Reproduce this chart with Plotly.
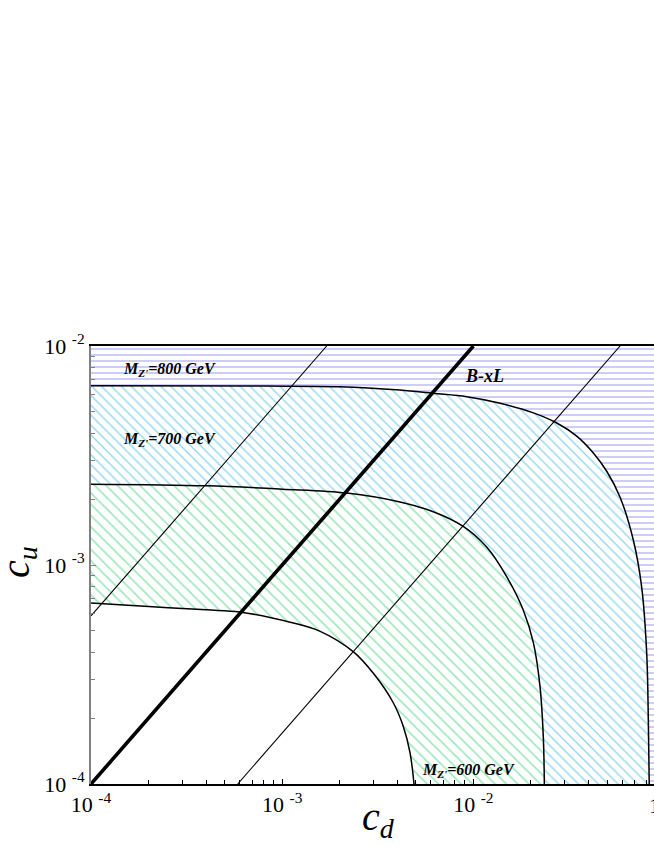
import plotly.graph_objects as go

# ---- data (c_d, c_u) ----
cd_600 = [1e-4, 2e-4, 4e-4, 6.0e-4, 1.10e-3, 1.58e-3, 2.36e-3, 2.99e-3, 3.81e-3, 4.30e-3, 4.66e-3, 4.89e-3]
cu_600 = [6.70e-4, 6.46e-4, 6.24e-4, 6.10e-4, 5.48e-4, 4.98e-4, 4.01e-4, 3.21e-4, 2.35e-4, 1.83e-4, 1.39e-4, 1.0e-4]

cd_700 = [1e-4, 4.03e-4, 1.0e-3, 2.17e-3, 4.13e-3, 6.17e-3, 8.85e-3, 1.17e-2, 1.49e-2, 1.82e-2, 2.06e-2, 2.23e-2, 2.32e-2, 2.35e-2]
cu_700 = [2.34e-3, 2.30e-3, 2.22e-3, 2.13e-3, 1.94e-3, 1.75e-3, 1.50e-3, 1.21e-3, 8.87e-4, 6.25e-4, 4.41e-4, 2.79e-4, 1.65e-4, 1.0e-4]

cd_800 = [1e-4, 8e-4, 2.0e-3, 4.13e-3, 6.17e-3, 9.22e-3, 1.38e-2, 2.06e-2, 2.73e-2, 3.47e-2, 4.24e-2, 4.98e-2, 5.85e-2, 6.86e-2, 7.59e-2, 8.06e-2, 8.22e-2, 8.31e-2]
cu_800 = [6.58e-3, 6.56e-3, 6.52e-3, 6.29e-3, 6.08e-3, 5.87e-3, 5.48e-3, 4.95e-3, 4.45e-3, 3.88e-3, 3.25e-3, 2.68e-3, 2.04e-3, 1.30e-3, 7.90e-4, 3.96e-4, 1.97e-4, 1.0e-4]

# frame of the excluded region (top-left corner, top-right corner, bottom-right corner)
frame_cd = [1e-4, 1e-1, 1e-1]
frame_cu = [1e-2, 1e-2, 1e-4]

# straight lines
bxl_cd = [1e-4, 1e-2]
bxl_cu = [1e-4, 1e-2]
lineA_cd = [1e-4, 1.71e-3]
lineA_cu = [5.86e-4, 1e-2]
lineB_cd = [5.85e-4, 5.85e-2]
lineB_cu = [1e-4, 1e-2]

tick_vals = [1e-4, 1e-3, 1e-2, 1e-1]
tick_text = ["10 <sup>-4</sup>", "10 <sup>-3</sup>", "10 <sup>-2</sup>", "10 <sup>-1</sup>"]

GREEN = "#3ccf7a"
CYAN = "#27aee0"
BLUE = "#5555e6"
FONT = "Liberation Serif"

fig = go.Figure()

SM = 1.0
# fills (hatched regions)
fig.add_trace(go.Scatter(x=cd_600, y=cu_600, mode="lines",
                         line=dict(width=0, shape="spline", smoothing=SM),
                         hoverinfo="skip", showlegend=False))
fig.add_trace(go.Scatter(x=cd_700, y=cu_700, mode="lines",
                         line=dict(width=0, shape="spline", smoothing=SM),
                         fill="tonexty", fillcolor="rgba(0,0,0,0)",
                         fillpattern=dict(shape="\\", fgcolor=GREEN, bgcolor="white", size=8, solidity=0.2),
                         hoverinfo="skip", showlegend=False))
fig.add_trace(go.Scatter(x=cd_800, y=cu_800, mode="lines",
                         line=dict(width=0, shape="spline", smoothing=SM),
                         fill="tonexty", fillcolor="rgba(0,0,0,0)",
                         fillpattern=dict(shape="\\", fgcolor=CYAN, bgcolor="white", size=7, solidity=0.2),
                         hoverinfo="skip", showlegend=False))
fig.add_trace(go.Scatter(x=frame_cd, y=frame_cu, mode="lines",
                         line=dict(width=0),
                         fill="tonexty", fillcolor="rgba(0,0,0,0)",
                         fillpattern=dict(shape="-", fgcolor=BLUE, bgcolor="white", size=6, solidity=0.2),
                         hoverinfo="skip", showlegend=False))

# boundary curves
for xs, ys in [(cd_600, cu_600), (cd_700, cu_700), (cd_800, cu_800)]:
    fig.add_trace(go.Scatter(x=xs, y=ys, mode="lines",
                             line=dict(color="black", width=1.5, shape="spline", smoothing=SM),
                             hoverinfo="skip", showlegend=False))

# straight lines
fig.add_trace(go.Scatter(x=lineA_cd, y=lineA_cu, mode="lines", line=dict(color="black", width=1.1),
                         hoverinfo="skip", showlegend=False))
fig.add_trace(go.Scatter(x=lineB_cd, y=lineB_cu, mode="lines", line=dict(color="black", width=1.1),
                         hoverinfo="skip", showlegend=False))
fig.add_trace(go.Scatter(x=bxl_cd, y=bxl_cu, mode="lines", line=dict(color="black", width=3.6),
                         hoverinfo="skip", showlegend=False))

L, T, PW, PH = 91, 346, 563, 438
x_right = -4 + PW / 191.2


def px(xp):  # page x -> paper x
    return (xp - L) / PW


def py(yp):  # page y -> paper y
    return (T + PH - yp) / PH


fig.update_layout(
    width=654, height=846,
    margin=dict(l=L, r=654 - L - PW, t=T, b=846 - T - PH),
    paper_bgcolor="white", plot_bgcolor="white",
    font=dict(family=FONT, color="black"),
    xaxis=dict(type="log", range=[-4, x_right], tickvals=tick_vals, ticktext=tick_text,
               tickfont=dict(family=FONT, size=22, color="black"),
               ticks="inside", ticklen=5, tickcolor="black",
               showline=True, linecolor="black", linewidth=1.5, mirror=True,
               showgrid=False, zeroline=False,
               minor=dict(ticks="inside", ticklen=4, tickcolor="black", dtick="D1", showgrid=False)),
    yaxis=dict(type="log", range=[-4, -2], tickvals=tick_vals, ticktext=tick_text,
               tickfont=dict(family=FONT, size=22, color="black"),
               ticks="inside", ticklen=5, tickcolor="#808080",
               showline=True, linecolor="#808080", linewidth=2, mirror=False,
               showgrid=False, zeroline=False,
               minor=dict(ticks="inside", ticklen=4, tickcolor="#808080", dtick="D1", showgrid=False)),
    annotations=[
        dict(text="<b><i>M<sub>Z'</sub>=800 GeV</i></b>", x=-3.592, y=-2.109, xref="x", yref="y",
             showarrow=False, font=dict(family=FONT, size=16, color="black")),
        dict(text="<b><i>M<sub>Z'</sub>=700 GeV</i></b>", x=-3.592, y=-2.429, xref="x", yref="y",
             showarrow=False, font=dict(family=FONT, size=16, color="black")),
        dict(text="<b><i>M<sub>Z'</sub>=600 GeV</i></b>", x=-2.028, y=-3.939, xref="x", yref="y",
             showarrow=False, font=dict(family=FONT, size=16, color="black")),
        dict(text="<b><i>B-xL</i></b>", x=-1.9445, y=-2.137, xref="x", yref="y",
             showarrow=False, font=dict(family=FONT, size=18, color="black")),
        dict(text="<i>c<sub>u</sub></i>", x=px(-9), y=py(562), xref="paper", yref="paper",
             showarrow=False, textangle=-90, font=dict(family=FONT, size=40, color="black")),
        dict(text="<i>c<sub>d</sub></i>", x=px(378), y=py(846), xref="paper", yref="paper",
             showarrow=False, font=dict(family=FONT, size=40, color="black")),
        dict(text="10 <sup>-1</sup>", x=px(647), y=0, xref="paper", yref="paper",
             xanchor="left", yanchor="top", yshift=-4, showarrow=False,
             font=dict(family=FONT, size=22, color="black")),
    ],
)

fig.write_html("out.html", config={"displayModeBar": False},
               post_script="document.body.style.margin='0';document.body.style.overflow='hidden';")
